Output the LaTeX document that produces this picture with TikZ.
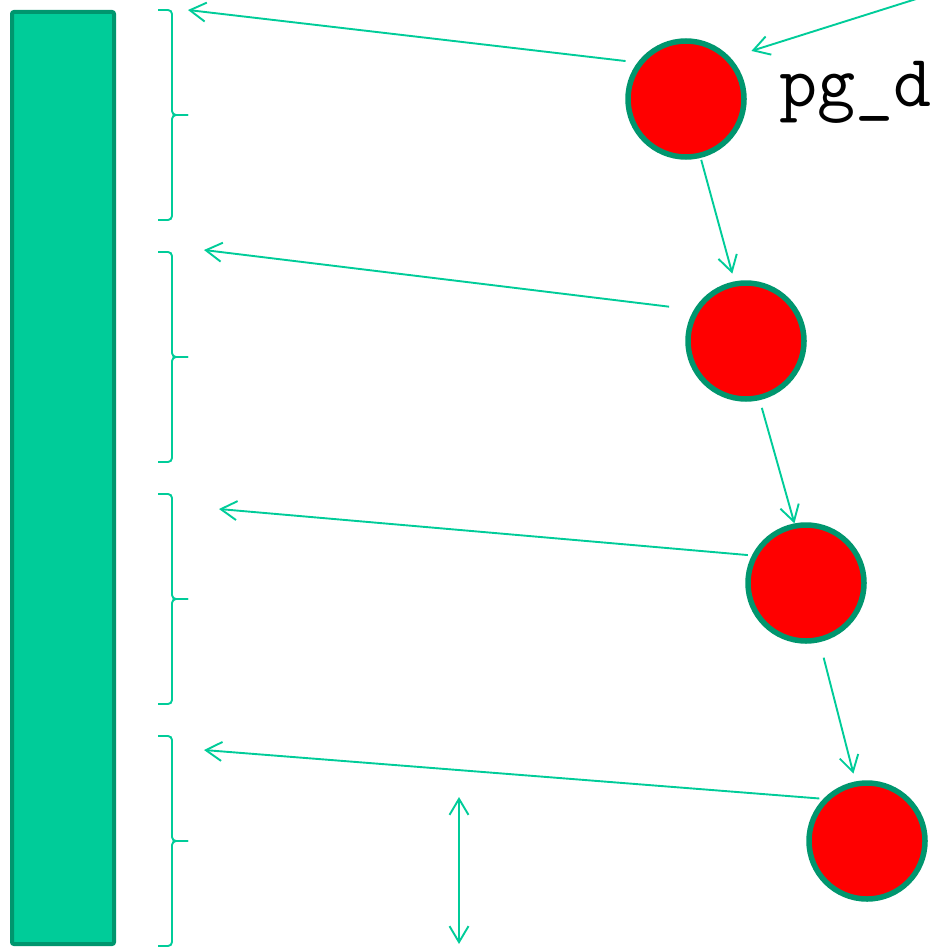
\documentclass[tikz,border=0pt]{standalone}
\usepackage{fontspec}
\usetikzlibrary{arrows.meta}
\definecolor{memgreen}{RGB}{0,204,153}
\definecolor{darkgreen}{RGB}{0,150,110}
\begin{document}
\begin{tikzpicture}[x=1pt, y=-1pt,
    pagenode/.style={circle, draw=darkgreen, fill=red, line width=5.5pt, minimum size=116pt, inner sep=0pt},
    memblock/.style={draw=darkgreen, fill=memgreen, line width=4pt, rounded corners=2pt, minimum width=102pt, minimum height=932pt, inner sep=0pt},
    link/.style={draw=memgreen, line width=1.9pt, -{Straight Barb[length=16pt,width=19pt,line width=1.9pt]}},
    bracket/.style={draw=memgreen, line width=1.9pt, rounded corners=4pt}
    ]
    \useasboundingbox (0,0) rectangle (932,952);

    \node [memblock] (mem) at (63,478) {};

    \node [pagenode] (p1) at (686,99) {};
    \node [pagenode] (p2) at (746,341) {};
    \node [pagenode] (p3) at (806,583) {};
    \node [pagenode] (p4) at (867,841) {};
    \node [anchor=base west, inner sep=0pt, font=\ttfamily\fontsize{74}{78}\selectfont] (pglabel) at (779,107) {pg\_d};

    \draw [bracket] (158,10) -- (172,10) -- (172,115) -- (188,115);
    \draw [bracket] (188,115) -- (172,115) -- (172,220) -- (158,220);
    \draw [bracket] (158,252) -- (172,252) -- (172,357) -- (188,357);
    \draw [bracket] (188,357) -- (172,357) -- (172,462) -- (158,462);
    \draw [bracket] (158,494) -- (172,494) -- (172,599) -- (188,599);
    \draw [bracket] (188,599) -- (172,599) -- (172,704) -- (158,704);
    \draw [bracket] (158,736) -- (172,736) -- (172,841) -- (188,841);
    \draw [bracket] (188,841) -- (172,841) -- (172,946) -- (158,946);

    \coordinate (t1) at (188,10);
    \coordinate (t2) at (204,250);
    \coordinate (t3) at (219,509);
    \coordinate (t4) at (204,750);
    \coordinate (top) at (932,-6);
    \coordinate (s1) at (459,797);
    \coordinate (s2) at (459,944);

    \draw [link, shorten >=22pt] (top) -- (p1.43);
    \draw [link, shorten <=2pt, shorten >=8pt] (p1.-76) -- (p2.101);
    \draw [link, shorten <=8pt] (p2.-77) -- (p3.101);
    \draw [link, shorten <=16pt, shorten >=8pt] (p3.-77) -- (p4.101);

    \draw [link, shorten <=12pt] (p1.143) -- (t1);
    \draw [link, shorten <=25pt] (p2.149) -- (t2);
    \draw [link, shorten <=4pt] (p3.153) -- (t3);
    \draw [link, shorten <=4pt] (p4.136) -- (t4);

    \draw [link, {Straight Barb[length=16pt,width=19pt,line width=1.9pt]}-{Straight Barb[length=16pt,width=19pt,line width=1.9pt]}] (s1) -- (s2);
\end{tikzpicture}
\end{document}
